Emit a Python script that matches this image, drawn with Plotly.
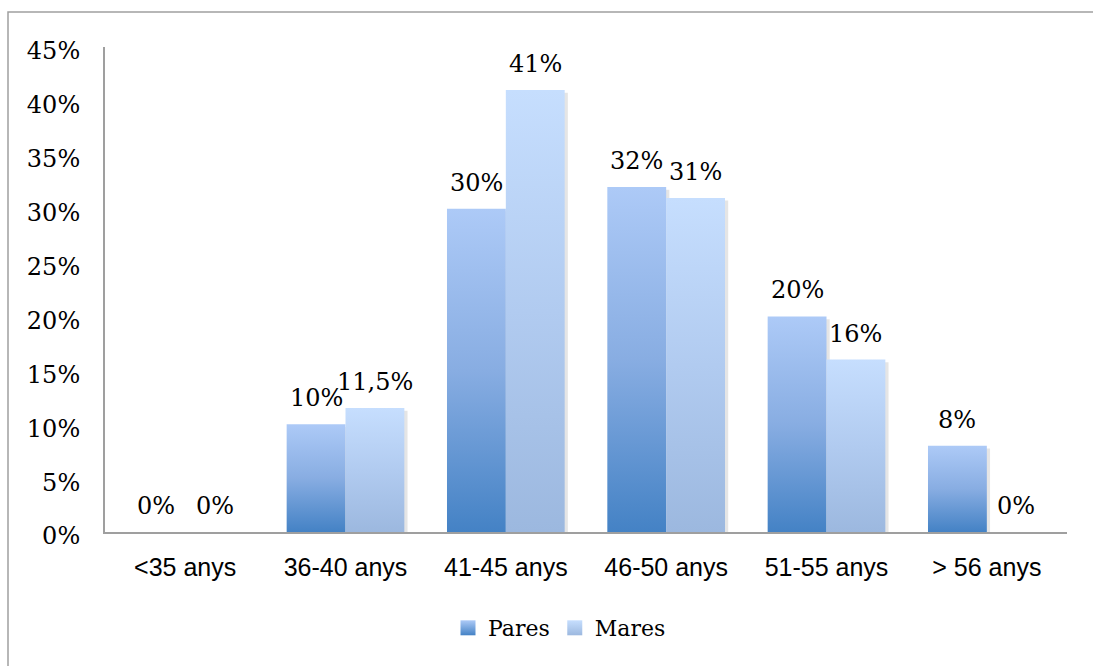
import plotly.graph_objects as go

# Age bands and the share of fathers / mothers in each band (percent)
categories = ["<35 anys", "36-40 anys", "41-45 anys", "46-50 anys", "51-55 anys", "> 56 anys"]
pares = [0, 10, 30, 32, 20, 8]
mares = [0, 11.5, 41, 31, 16, 0]
pares_labels = ["0%", "10%", "30%", "32%", "20%", "8%"]
mares_labels = ["0%", "11,5%", "41%", "31%", "16%", "0%"]
y_ticks = [0, 5, 10, 15, 20, 25, 30, 35, 40, 45]

W, H = 1093, 666
L, R, T, B = 105, 26, 47, 134
BAR_W = 0.367

SERIF = "DejaVu Serif"
SANS = "Liberation Sans"

series = [
    ("Pares", pares, pares_labels, -1, ["#4482c5", "#88ade2", "#adcaf7"]),
    ("Mares", mares, mares_labels, 0, ["#9cb8df", "#b1cbf0", "#c6defe"]),
]

fig = go.Figure()
annotations = []
for name, values, labels, side, cols in series:
    for i, v in enumerate(values):
        x0 = i + side * BAR_W
        x1 = x0 + BAR_W
        # soft drop shadow on the right of each bar
        if v > 0:
            fig.add_trace(go.Scatter(
                x=[x0 + 0.02, x1 + 0.02, x1 + 0.02, x0 + 0.02, x0 + 0.02],
                y=[0, 0, v - 0.25, v - 0.25, 0],
                mode="lines", line=dict(width=0), fill="toself",
                fillcolor="rgba(0,0,0,0.10)", hoverinfo="skip", showlegend=False,
            ))
        fig.add_trace(go.Scatter(
            x=[x0, x1, x1, x0, x0],
            y=[0, 0, v, v, 0],
            mode="lines", line=dict(width=0),
            fill="toself",
            fillgradient=dict(
                type="vertical",
                colorscale=[[0, cols[0]], [0.5, cols[1]], [1, cols[2]]],
                start=0, stop=v if v > 0 else 1,
            ),
            name=name, legendgroup=name, showlegend=False,
            hovertemplate=f"{name}<br>{categories[i]}: {labels[i]}<extra></extra>",
        ))
        annotations.append(dict(
            x=(x0 + x1) / 2, y=v, xref="x", yref="y", text=labels[i],
            showarrow=False, yshift=26, yanchor="middle",
            font=dict(family=SERIF, size=24, color="#000000"),
        ))
    # legend key: square swatch with the same vertical gradient
    fig.add_trace(go.Scatter(
        x=[None], y=[None], mode="markers", name=name, legendgroup=name,
        marker=dict(symbol="square", size=15, color=cols[2],
                    gradient=dict(type="vertical", color=cols[0]),
                    line=dict(width=0)),
        hoverinfo="skip",
    ))

px = lambda p: (p - L) / (W - L - R)
py = lambda p: (H - B - p) / (H - T - B)

fig.update_layout(
    width=W, height=H, autosize=False,
    margin=dict(l=L, r=R, t=T, b=B),
    paper_bgcolor="white", plot_bgcolor="white",
    annotations=annotations,
    shapes=[dict(type="rect", xref="paper", yref="paper",
                 x0=px(8), x1=px(1110), y0=py(690), y1=py(12),
                 line=dict(color="#a0a0a0", width=1.5), fillcolor="rgba(0,0,0,0)", layer="below")],
    xaxis=dict(
        range=[-0.5, 5.5], tickmode="array", tickvals=list(range(len(categories))),
        ticktext=categories, showgrid=False, zeroline=False,
        showline=True, linecolor="#9f9f9f", linewidth=2, ticks="",
        tickfont=dict(family=SANS, size=25, color="#000000"),
        ticklabelstandoff=12, fixedrange=True,
    ),
    yaxis=dict(
        range=[0, 45], tickmode="array", tickvals=y_ticks,
        ticktext=[f"{t}%" for t in y_ticks], showgrid=False, zeroline=False,
        showline=True, linecolor="#9f9f9f", linewidth=2, ticks="",
        tickfont=dict(family=SERIF, size=24, color="#000000"),
        ticklabelstandoff=18, ticklabelshift=4, fixedrange=True,
    ),
    legend=dict(
        orientation="h", x=px(448), xanchor="left", y=py(628), yanchor="middle",
        font=dict(family=SERIF, size=22, color="#000000"),
        bgcolor="rgba(0,0,0,0)", itemwidth=30,
    ),
)

fig.write_html("out.html")
